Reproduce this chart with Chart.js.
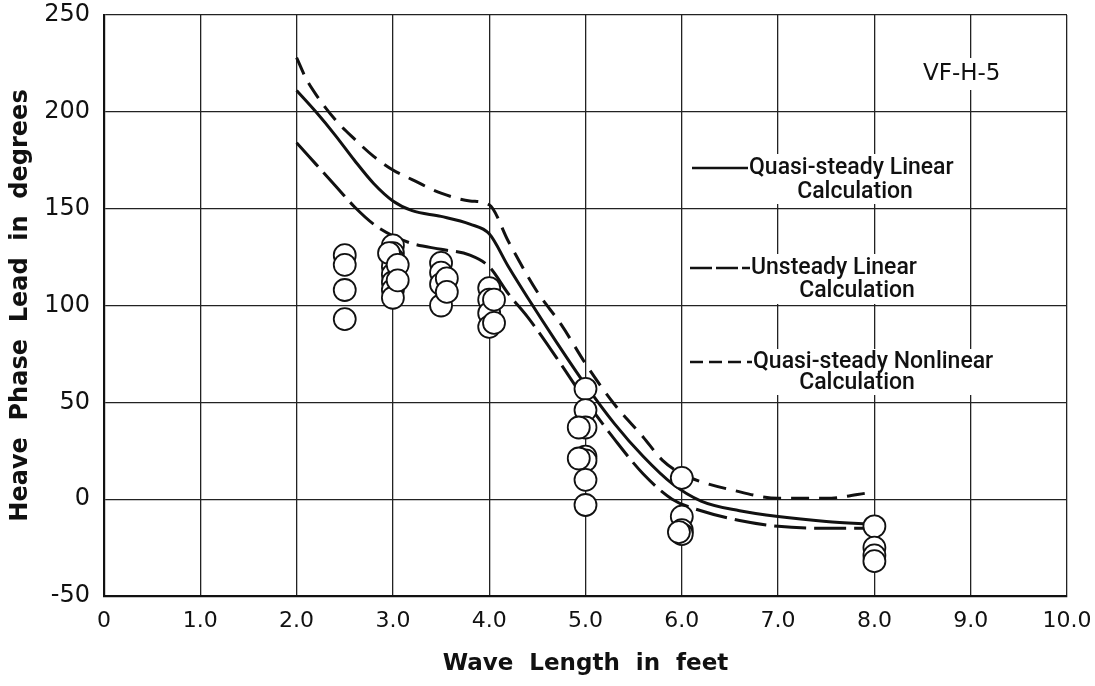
<!DOCTYPE html>
<html>
<head>
<meta charset="utf-8">
<script src="https://cdn.jsdelivr.net/npm/chart.js@4.4.1/dist/chart.umd.min.js"></script>
<style>
  html, body { margin: 0; padding: 0; background: #fff; }
  #wrap { width: 1095px; height: 686px; position: relative; }
</style>
</head>
<body>
<div id="wrap"><canvas id="phaseChart"></canvas></div>
<script>
// measured points (circles)
const pointX = [2.5, 2.5, 2.5, 2.5,
    3.0, 3.0, 3.0, 3.0, 3.0, 3.0, 3.0, 3.0, 2.96, 3.05, 3.05,
    3.5, 3.5, 3.5, 3.5, 3.56, 3.56,
    4.0, 4.0, 4.0, 4.0, 4.05, 4.05,
    5.0, 5.0, 5.0, 5.0, 5.0, 5.0, 5.0, 4.93, 4.93,
    6.0, 6.0, 6.0, 6.0, 5.97,
    8.0, 8.0, 8.0, 8.0];
const pointY = [126, 121, 108, 93,
    131, 127, 124, 120, 116, 112, 108, 104, 127, 121, 113,
    122, 117, 111, 100, 114, 107,
    109, 103, 96, 89, 103, 91,
    57, 46, 37, 22, 20, 10, -3, 37, 21,
    11, -9, -16, -18, -17,
    -14, -25, -29, -32];

// Quasi-steady Linear Calculation (solid)
const linearX = [2.0, 2.2, 2.4, 2.6, 2.8, 3.0, 3.2, 3.5, 3.8, 4.0, 4.2, 4.4, 4.7, 5.0, 5.3, 5.6, 5.9, 6.2, 6.6, 7.0, 7.5, 8.0];
const linearY = [211, 200, 188, 175, 163, 154, 149, 146, 142, 137, 120, 104, 81, 59, 39, 22, 8, -1, -6, -9, -11.5, -13];

// Unsteady Linear Calculation (long dash)
const unsteadyX = [2.0, 2.2, 2.4, 2.6, 2.8, 3.0, 3.2, 3.5, 3.8, 4.0, 4.2, 4.4, 4.7, 5.0, 5.3, 5.6, 5.9, 6.2, 6.6, 7.0, 7.5, 8.0];
const unsteadyY = [184, 173, 162, 151, 142, 136, 132, 129, 126, 120, 106, 94, 73, 51, 31, 13, 0, -6, -11, -14, -15, -15];

// Quasi-steady Nonlinear Calculation (short dash)
const nonlinearX = [2.0, 2.1, 2.2, 2.4, 2.6, 2.8, 3.0, 3.2, 3.5, 3.8, 4.0, 4.2, 4.5, 4.75, 5.0, 5.3, 5.6, 5.8, 6.0, 6.2, 6.5, 7.0, 7.5, 7.9, 8.0];
const nonlinearY = [228, 217, 209, 196, 186, 177, 170, 165, 158, 154, 152, 133, 107, 90, 70, 49, 32, 20, 13, 9, 5, 0.5, 0.5, 3, 4];

const legendNames = ['Quasi-steady Linear', 'Unsteady Linear', 'Quasi-steady Nonlinear'];
const tagText = 'VF-H-5';

function toXY(xs, ys) {
    return xs.map((x, i) => ({ x: x, y: ys[i] }));
}

// legend block drawn inside the plot, on white patches like the pasted label
const notesPlugin = {
    id: 'notes',
    beforeDatasetsDraw(chart) {
        const ctx = chart.ctx;
        ctx.save();
        ctx.fillStyle = '#fff';
        ctx.fillRect(918, 58, 110, 32);
        ctx.fillRect(748, 154, 218, 50);
        ctx.fillRect(748, 254, 194, 50);
        ctx.fillRect(750, 349, 266, 46);

        ctx.fillStyle = '#111';
        ctx.textBaseline = 'middle';
        ctx.font = '23px "DejaVu Sans"';
        ctx.fillText(tagText, 923, 74);

        ctx.font = '500 23px Roboto';
        ctx.textAlign = 'left';
        ctx.fillText(legendNames[0], 749, 168);
        ctx.fillText(legendNames[1], 751, 268);
        ctx.fillText(legendNames[2], 753, 362);
        ctx.textAlign = 'center';
        ctx.fillText('Calculation', 855, 192);
        ctx.fillText('Calculation', 857, 291);
        ctx.fillText('Calculation', 857, 383);

        ctx.strokeStyle = '#111';
        ctx.lineWidth = 2.5;
        ctx.beginPath(); ctx.moveTo(692, 168); ctx.lineTo(748, 168); ctx.stroke();
        ctx.setLineDash([22, 4]);
        ctx.beginPath(); ctx.moveTo(690, 268); ctx.lineTo(750, 268); ctx.stroke();
        ctx.setLineDash([13, 6]);
        ctx.beginPath(); ctx.moveTo(690, 362); ctx.lineTo(752, 362); ctx.stroke();
        ctx.restore();
    }
};

document.addEventListener('DOMContentLoaded', function() {
    const ctx = document.getElementById('phaseChart').getContext('2d');

    new Chart(ctx, {
        type: 'scatter',
        data: {
            datasets: [
                {
                    label: 'Measured',
                    data: toXY(pointX, pointY),
                    pointRadius: 11,
                    pointBackgroundColor: '#fff',
                    pointBorderColor: '#111',
                    pointBorderWidth: 1.8,
                    showLine: false,
                    order: 0
                },
                {
                    label: legendNames[0],
                    data: toXY(linearX, linearY),
                    showLine: true,
                    borderColor: '#111',
                    borderWidth: 3,
                    pointRadius: 0,
                    cubicInterpolationMode: 'monotone',
                    order: 1
                },
                {
                    label: legendNames[1],
                    data: toXY(unsteadyX, unsteadyY),
                    showLine: true,
                    borderColor: '#111',
                    borderWidth: 3,
                    borderDash: [32, 8],
                    pointRadius: 0,
                    cubicInterpolationMode: 'monotone',
                    order: 1
                },
                {
                    label: legendNames[2],
                    data: toXY(nonlinearX, nonlinearY),
                    showLine: true,
                    borderColor: '#111',
                    borderWidth: 3,
                    borderDash: [18, 10],
                    pointRadius: 0,
                    cubicInterpolationMode: 'monotone',
                    order: 1
                }
            ]
        },
        options: {
            responsive: true,
            maintainAspectRatio: false,
            animation: false,
            layout: { padding: { top: 15, right: 28, left: 0, bottom: 0 } },
            plugins: {
                legend: { display: false },
                tooltip: { enabled: false }
            },
            scales: {
                x: {
                    type: 'linear',
                    min: 0,
                    max: 10,
                    afterFit: (scale) => {
                        scale.height = 90;
                        scale.paddingLeft = 0;
                        scale.paddingRight = 0;
                    },
                    ticks: {
                        stepSize: 1,
                        padding: 12,
                        color: '#111',
                        font: { family: 'DejaVu Sans', size: 22 },
                        maxRotation: 0,
                        callback: (v) => v === 0 ? '0' : v.toFixed(1)
                    },
                    grid: { color: '#222', lineWidth: 1.3, drawTicks: false },
                    border: { color: '#111', width: 2.2 },
                    title: {
                        display: true,
                        text: 'Wave  Length  in  feet',
                        color: '#111',
                        font: { family: 'DejaVu Sans', size: 23, weight: 'bold' },
                        padding: { top: 0, bottom: 8 }
                    }
                },
                y: {
                    min: -50,
                    max: 250,
                    afterFit: (scale) => {
                        scale.width = 104;
                        scale.paddingTop = 0;
                        scale.paddingBottom = 0;
                    },
                    ticks: {
                        stepSize: 50,
                        padding: 14,
                        color: '#111',
                        font: { family: 'DejaVu Sans', size: 24 }
                    },
                    grid: { color: '#222', lineWidth: 1.3, drawTicks: false },
                    border: { color: '#111', width: 2.2 },
                    title: {
                        display: true,
                        text: 'Heave  Phase  Lead  in  degrees',
                        color: '#111',
                        font: { family: 'DejaVu Sans', size: 24, weight: 'bold' },
                        padding: { top: 6, bottom: 0 }
                    }
                }
            }
        },
        plugins: [notesPlugin]
    });
});
</script>
</body>
</html>
